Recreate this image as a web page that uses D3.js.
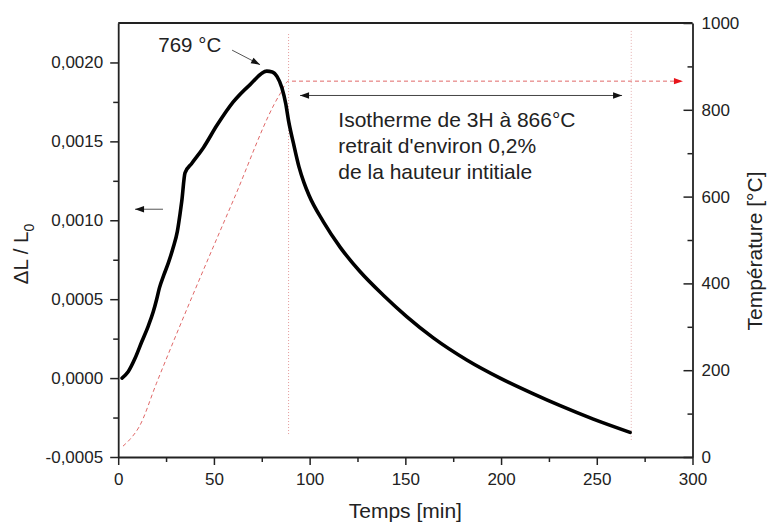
<!DOCTYPE html>
<html>
<head>
<meta charset="utf-8">
<script src="https://cdn.jsdelivr.net/npm/d3@7"></script>
<style>
  html, body { margin: 0; padding: 0; background: #fff; }
  svg { display: block; font-family: "Liberation Sans", Arial, sans-serif; }
</style>
</head>
<body>
<svg id="chart" width="771" height="522"></svg>
<script>
// ---- data ----
const dilTime = [2, 5.2, 8.8, 12.3, 15.7, 18.3, 20.1, 21.5, 23.9, 26.2, 28.8, 30.9, 32.3, 33.2, 34.9, 38.4, 44.5, 51.5, 60.1, 68.9, 77.6, 80.5, 83, 85.5, 87.5, 89, 91.5, 94.4, 97, 99.6, 107.2, 115.9, 126.3, 138.5, 150.7, 164.6, 182.1, 199.5, 216.9, 230.9, 248.2, 267.4];
const dilValue = [0, 0.00004, 0.000125, 0.00023, 0.00033, 0.00042, 0.0005, 0.00057, 0.000655, 0.00073, 0.00083, 0.00093, 0.00104, 0.00112, 0.0013, 0.00136, 0.00146, 0.0016, 0.00175, 0.00186, 0.001945, 0.00194, 0.00191, 0.00184, 0.00174, 0.00163, 0.00149, 0.00134, 0.00124, 0.00116, 0.00099, 0.00083, 0.000675, 0.000525, 0.00039, 0.000255, 0.000115, 0, -0.0001, -0.000175, -0.00026, -0.000344];

const tempTime = [2.5, 6, 11, 20, 60, 84.6, 89, 295];
const tempValue = [25, 40, 70, 170, 590, 837, 866, 866];

const xTicks = [0, 50, 100, 150, 200, 250, 300];
const xMinorTicks = [25, 75, 125, 175, 225, 275];
const yLeftTicks = [-0.0005, 0, 0.0005, 0.0010, 0.0015, 0.0020];
const yLeftMinorTicks = [-0.00025, 0.00025, 0.00075, 0.00125, 0.00175];
const yRightTicks = [0, 200, 400, 600, 800, 1000];
const yRightMinorTicks = [100, 300, 500, 700, 900];

const isothermStart = 89;
const isothermEnd = 268;
const peakLabel = "769 °C";
const noteLines = ["Isotherme de 3H à 866°C", "retrait d'environ 0,2%", "de la hauteur intitiale"];
const xTitle = "Temps [min]";
const yRightTitle = "Température [°C]";

// ---- layout ----
const svg = d3.select("#chart");
const L = 118.2, R = 692.5, T = 23, B = 457;
const x = d3.scaleLinear().domain([0, 300]).range([L, R]);
const yL = d3.scaleLinear().domain([-0.0005, 0.00225]).range([B, T]);
const yR = d3.scaleLinear().domain([0, 1000]).range([B, T]);

const axisColor = "#222";
const fmtL = v => d3.format(".4f")(v).replace(".", ",").replace("−", "-");

svg.append("defs").html(`
  <marker id="ahBlack" viewBox="0 0 10 10" refX="10" refY="5" markerWidth="11" markerHeight="9" markerUnits="userSpaceOnUse" orient="auto-start-reverse">
    <path d="M0,1.5 L10,5 L0,8.5 Z" fill="#111"/>
  </marker>
  <marker id="ahRed" viewBox="0 0 10 10" refX="10" refY="5" markerWidth="12" markerHeight="9" markerUnits="userSpaceOnUse" orient="auto">
    <path d="M0,1.5 L10,5 L0,8.5 Z" fill="#e8141a"/>
  </marker>
`);

// top border
svg.append("line").attr("x1", L).attr("x2", R).attr("y1", T).attr("y2", T)
  .attr("stroke", axisColor).attr("stroke-width", 1.8);

function styleAxis(g) {
  g.select(".domain").attr("stroke", axisColor).attr("stroke-width", 1.8);
  g.selectAll(".tick line").attr("stroke", axisColor).attr("stroke-width", 1.5);
  g.selectAll(".tick text").attr("fill", "#222").style("font-size", "17px")
    .style("font-family", "'Liberation Sans', Arial, sans-serif");
}

// bottom axis
const gx = svg.append("g").attr("transform", `translate(0,${B})`)
  .call(d3.axisBottom(x).tickValues(xTicks).tickSize(8).tickSizeOuter(0).tickPadding(8).tickFormat(d3.format("d")));
styleAxis(gx);
const gxm = svg.append("g").attr("transform", `translate(0,${B})`)
  .call(d3.axisBottom(x).tickValues(xMinorTicks).tickSize(5).tickFormat(""));
gxm.select(".domain").remove();
gxm.selectAll(".tick line").attr("stroke", axisColor).attr("stroke-width", 1.5);

// left axis
const gy = svg.append("g").attr("transform", `translate(${L},0)`)
  .call(d3.axisLeft(yL).tickValues(yLeftTicks).tickSize(8).tickSizeOuter(0).tickPadding(7).tickFormat(fmtL));
styleAxis(gy);
const gym = svg.append("g").attr("transform", `translate(${L},0)`)
  .call(d3.axisLeft(yL).tickValues(yLeftMinorTicks).tickSize(5).tickFormat(""));
gym.select(".domain").remove();
gym.selectAll(".tick line").attr("stroke", axisColor).attr("stroke-width", 1.5);

// right axis (ticks inward)
const gr = svg.append("g").attr("transform", `translate(${R},0)`)
  .call(d3.axisRight(yR).tickValues(yRightTicks).tickSizeInner(-9).tickSizeOuter(0).tickPadding(9).tickFormat(d3.format("d")));
styleAxis(gr);
const grm = svg.append("g").attr("transform", `translate(${R},0)`)
  .call(d3.axisRight(yR).tickValues(yRightMinorTicks).tickSizeInner(-5).tickSizeOuter(0).tickFormat(""));
grm.select(".domain").remove();
grm.selectAll(".tick line").attr("stroke", axisColor).attr("stroke-width", 1.5);

// axis titles
svg.append("text").attr("x", (L + R) / 2).attr("y", 518).attr("text-anchor", "middle")
  .style("font-size", "21px").attr("fill", "#222").text(xTitle);

const yLt = svg.append("text").attr("transform", "translate(28,254) rotate(-90)")
  .attr("text-anchor", "middle").style("font-size", "20.5px").attr("fill", "#222");
yLt.append("tspan").text("ΔL / L");
yLt.append("tspan").attr("dy", 6).style("font-size", "14px").text("0");

svg.append("text").attr("transform", "translate(762,251) rotate(-90)")
  .attr("text-anchor", "middle").style("font-size", "21px").attr("fill", "#222").text(yRightTitle);

// vertical dotted isotherm markers
svg.append("line").attr("x1", x(isothermStart)).attr("x2", x(isothermStart))
  .attr("y1", yL(0.00218)).attr("y2", yL(-0.000357))
  .attr("stroke", "#e59a9a").attr("stroke-width", 1).attr("stroke-dasharray", "1,2");
svg.append("line").attr("x1", x(isothermEnd)).attr("x2", x(isothermEnd))
  .attr("y1", yL(0.0022)).attr("y2", yL(-0.0004))
  .attr("stroke", "#e5b0b0").attr("stroke-width", 1).attr("stroke-dasharray", "1,2");

// temperature curve (red dashed)
const tempData = tempTime.map((t, i) => [t, tempValue[i]]);
svg.append("path").datum(tempData)
  .attr("d", d3.line().x(d => x(d[0])).y(d => yR(d[1])).curve(d3.curveMonotoneX))
  .attr("fill", "none").attr("stroke", "#e06868").attr("stroke-width", 1)
  .attr("stroke-dasharray", "4,3").attr("marker-end", "url(#ahRed)");

// dilatation curve
const dilData = dilTime.map((t, i) => [t, dilValue[i]]);
svg.append("path").datum(dilData)
  .attr("d", d3.line().x(d => x(d[0])).y(d => yL(d[1])).curve(d3.curveMonotoneX))
  .attr("fill", "none").attr("stroke", "#000").attr("stroke-width", 3.6)
  .attr("stroke-linejoin", "round").attr("stroke-linecap", "round");

// annotations
svg.append("text").attr("x", 158.3).attr("y", 51.7).style("font-size", "20.5px").attr("fill", "#222").text(peakLabel);
svg.append("line").attr("x1", x(59.5)).attr("y1", yL(0.002078)).attr("x2", x(74.1)).attr("y2", yL(0.001986))
  .attr("stroke", "#555").attr("stroke-width", 1).attr("marker-end", "url(#ahBlack)");

// left pointing arrow (ΔL axis)
svg.append("line").attr("x1", x(23.4)).attr("y1", yL(0.00107)).attr("x2", x(8.8)).attr("y2", yL(0.00107))
  .attr("stroke", "#555").attr("stroke-width", 1).attr("marker-end", "url(#ahBlack)");

// isotherm double arrow
svg.append("line").attr("x1", x(95)).attr("y1", yR(833)).attr("x2", x(263.2)).attr("y2", yR(833))
  .attr("stroke", "#444").attr("stroke-width", 1)
  .attr("marker-start", "url(#ahBlack)").attr("marker-end", "url(#ahBlack)");

const note = svg.append("text").style("font-size", "21px").attr("fill", "#222");
noteLines.forEach((s, i) => {
  note.append("tspan").attr("x", 338.3).attr("y", 127.3 + i * 26).text(s);
});
</script>
</body>
</html>
